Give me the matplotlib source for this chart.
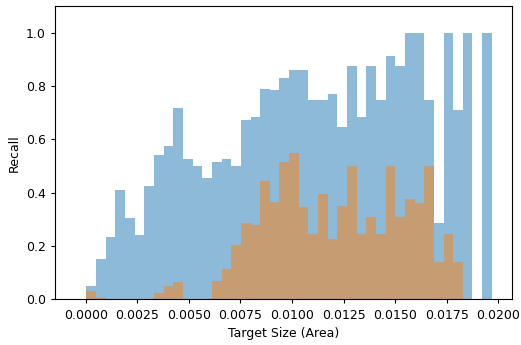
import numpy as np
import matplotlib
matplotlib.use("Agg")
import matplotlib.pyplot as plt

# Recall per target-size bin (42 equal-width bins)
bin_start = 0.00003
bin_width = 0.000468

recall_a = [0.05, 0.15, 0.235, 0.41, 0.305, 0.24, 0.425, 0.54, 0.575, 0.72,
            0.525, 0.50, 0.455, 0.515, 0.525, 0.50, 0.675, 0.685, 0.79, 0.785,
            0.83, 0.86, 0.86, 0.75, 0.75, 0.77, 0.645, 0.875, 0.685, 0.875,
            0.75, 0.915, 0.875, 1.0, 1.0, 0.75, 0.285, 1.0, 0.71, 1.0,
            0.0, 1.0]

recall_b = [0.03, 0.01, 0.0, 0.0, 0.0, 0.0, 0.0, 0.025, 0.05, 0.065,
            0.0, 0.0, 0.0, 0.07, 0.115, 0.205, 0.285, 0.28, 0.445, 0.365,
            0.515, 0.55, 0.345, 0.245, 0.395, 0.225, 0.35, 0.50, 0.245, 0.31,
            0.245, 0.50, 0.31, 0.375, 0.36, 0.50, 0.14, 0.245, 0.14, 0.0,
            0.0, 0.0]

x_ticks = [0.0, 0.0025, 0.005, 0.0075, 0.01, 0.0125, 0.015, 0.0175, 0.02]

edges = bin_start + bin_width * np.arange(len(recall_a))

plt.rcParams["font.size"] = 9
plt.rcParams["axes.linewidth"] = 0.8
plt.rcParams["xtick.major.size"] = 3.2
plt.rcParams["ytick.major.size"] = 3.2

fig = plt.figure(figsize=(5.21, 3.45), dpi=100)
ax = fig.add_axes([0.1061, 0.1325, 0.8772, 0.8492])

ax.bar(edges, recall_a, width=bin_width, align="edge", color="tab:blue", alpha=0.5)
ax.bar(edges, recall_b, width=bin_width, align="edge", color="tab:orange", alpha=0.5)

ax.set_xlim(-0.00148, 0.02068)
ax.set_ylim(0, 1.1)
ax.set_xticks(x_ticks)
ax.set_xticklabels([f"{t:.4f}" for t in x_ticks])
ax.set_yticks([0.0, 0.2, 0.4, 0.6, 0.8, 1.0])
ax.set_xlabel("Target Size (Area)")
ax.set_ylabel("Recall")

fig.savefig("out.png", dpi=100)
